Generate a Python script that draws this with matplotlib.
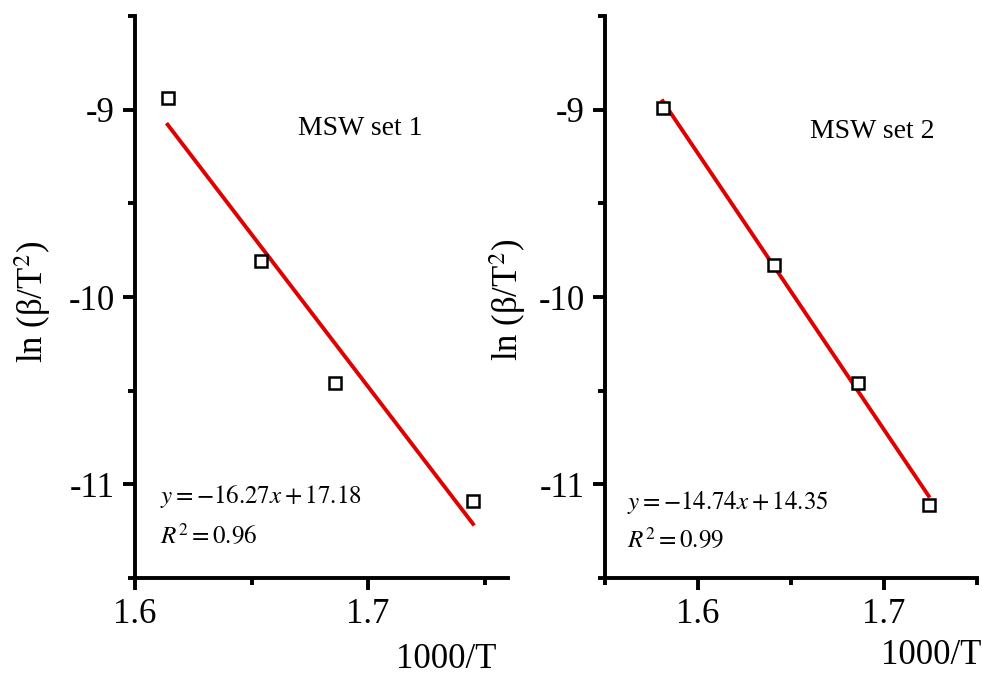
import matplotlib
matplotlib.use("Agg")
import matplotlib.pyplot as plt
from matplotlib.ticker import MultipleLocator

plt.rcParams["font.family"] = ["Liberation Serif", "DejaVu Serif"]
plt.rcParams["mathtext.fontset"] = "stix"
plt.rcParams["axes.unicode_minus"] = False

# ----- data -----
set1_x = [1.614, 1.654, 1.686, 1.745]
set1_y = [-8.94, -9.81, -10.46, -11.09]
set1_fit = (-16.27, 17.18)
set1_r2 = 0.96

set2_x = [1.581, 1.641, 1.686, 1.724]
set2_y = [-8.99, -9.83, -10.46, -11.11]
set2_fit = (-14.74, 14.35)
set2_r2 = 0.99

panels = [
    ("MSW set 1", set1_x, set1_y, set1_fit, set1_r2, (1.6, 1.76)),
    ("MSW set 2", set2_x, set2_y, set2_fit, set2_r2, (1.55, 1.75)),
]

fig = plt.figure(figsize=(9.82, 6.77), dpi=100)
ax_rects = [[0.1375, 0.1462, 0.3798, 0.8301], [0.6161, 0.1462, 0.3788, 0.8301]]

# per-panel text placement (axes fraction)
name_pos = [(0.437, 0.80), (0.551, 0.794)]
eq_pos = [(0.067, 0.133, 0.062), (0.059, 0.123, 0.055)]
xlab_pos = [(0.97, -0.160), (1.013, -0.153)]
ylab_pos = [(-0.276, 0.491), (-0.261, 0.495)]

for i, (name, xs, ys, fit, r2, xlim) in enumerate(panels):
    ax = fig.add_axes(ax_rects[i])

    # fitted line over the data range
    m, c = fit
    x0, x1 = min(xs), max(xs)
    ax.plot([x0, x1], [m * x0 + c, m * x1 + c], color="#e00000", lw=2.8, zorder=2)
    ax.plot(xs, ys, ls="none", marker="s", ms=8, mfc="white", mec="black",
            mew=1.8, zorder=3)

    ax.set_xlim(*xlim)
    ax.set_ylim(-11.5, -8.5)
    ax.xaxis.set_major_locator(MultipleLocator(0.1))
    ax.xaxis.set_minor_locator(MultipleLocator(0.05))
    ax.yaxis.set_major_locator(MultipleLocator(1))
    ax.yaxis.set_minor_locator(MultipleLocator(0.5))
    ax.xaxis.set_major_formatter(plt.FuncFormatter(lambda v, p: f"{v:.1f}"))
    ax.yaxis.set_major_formatter(plt.FuncFormatter(lambda v, p: f"{v:.0f}"))

    for s in ["top", "right"]:
        ax.spines[s].set_visible(False)
    for s in ["left", "bottom"]:
        ax.spines[s].set_linewidth(2.8)
    ax.tick_params(which="major", direction="out", length=8.5, width=2.8,
                   labelsize=25, pad=6)
    ax.tick_params(which="minor", direction="out", length=5, width=2.8)

    ax.text(*name_pos[i], name, transform=ax.transAxes, fontsize=20,
            ha="left", va="center")
    ex, ey, ry = eq_pos[i]
    sign = "+" if c >= 0 else "-"
    ax.text(ex, ey, rf"$y = {m:.2f}x {sign} {abs(c):.2f}$",
            transform=ax.transAxes, fontsize=18, ha="left", va="baseline")
    ax.text(ex, ry, rf"$R^2 = {r2:.2f}$", transform=ax.transAxes,
            fontsize=18, ha="left", va="baseline")

    ax.set_xlabel("1000/T", fontsize=25, ha="right", va="baseline")
    ax.xaxis.set_label_coords(*xlab_pos[i])
    ax.set_ylabel(r"ln (β/T$^2$)", fontsize=25, va="center")
    ax.yaxis.set_label_coords(*ylab_pos[i])

fig.savefig("out.png", dpi=100)
